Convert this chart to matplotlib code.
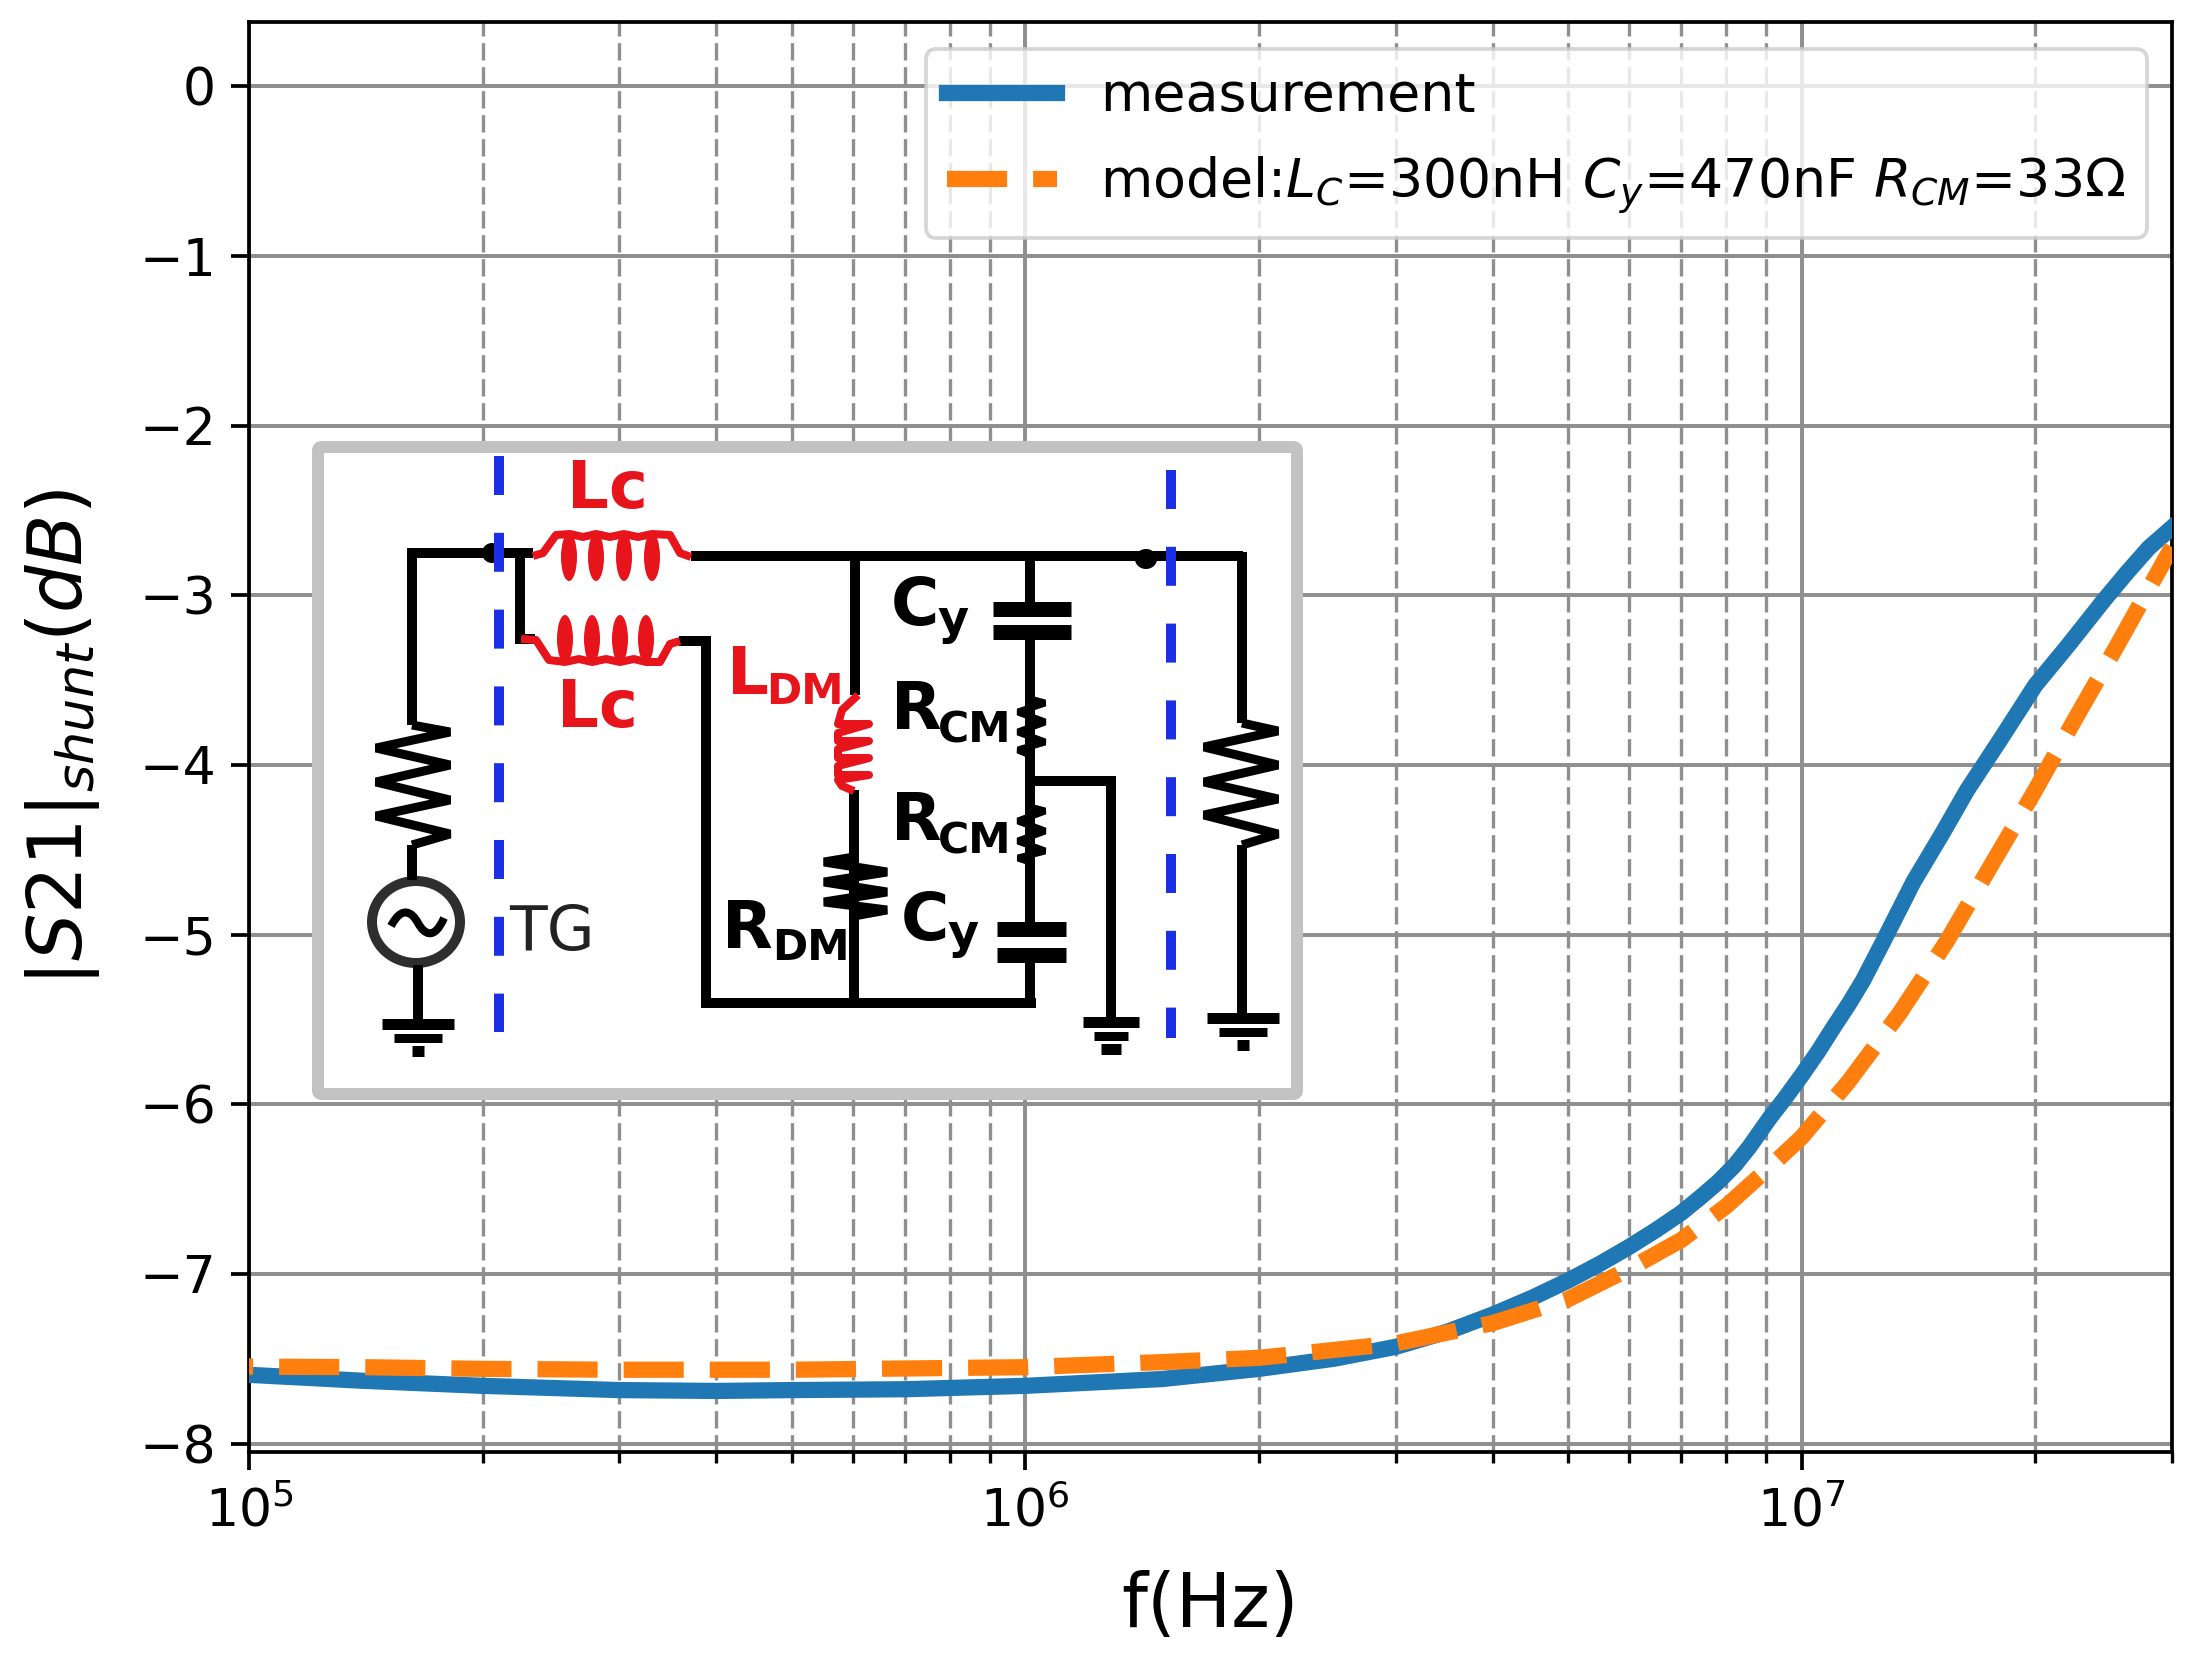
#!/usr/bin/env python3
"""|S21| shunt measurement vs model, with the test circuit drawn as an inset."""
import matplotlib
matplotlib.use("Agg")
import matplotlib.pyplot as plt
from matplotlib.patches import Ellipse, FancyBboxPatch, PathPatch
from matplotlib.path import Path
from matplotlib.ticker import LogLocator, NullFormatter

W, H = 2190, 1673
DPI = 300
PX = 72 / DPI  # one image pixel in points

BLUE = "#1f77b4"
ORANGE = "#ff7f0e"
GRID = "#8f8f8f"
BORDER = "#c2c2c2"
RED = "#e8141c"
DASH = "#1a2fe6"

FREQ_MEAS = [1e5, 1.4e5, 2e5, 3e5, 4e5, 5e5, 7e5, 1e6, 1.5e6, 2e6, 2.5e6, 3e6, 3.5e6, 4e6,
             4.5e6, 5e6, 5.5e6, 6e6, 6.5e6, 7e6, 7.4e6, 7.8e6, 8.2e6, 8.57e6, 9.1e6, 9.5e6,
             1e7, 1.05e7, 1.098e7, 1.15e7, 1.2e7, 1.274e7, 1.393e7, 1.524e7, 1.633e7,
             1.803e7, 2e7, 2.2e7, 2.45e7, 2.62e7, 2.8e7, 3e7]
S21_MEAS = [-7.595, -7.63, -7.66, -7.685, -7.69, -7.685, -7.68, -7.66, -7.62, -7.56, -7.50,
            -7.43, -7.34, -7.24, -7.14, -7.04, -6.94, -6.84, -6.74, -6.64, -6.55, -6.46,
            -6.36, -6.25, -6.08, -5.97, -5.83, -5.69, -5.55, -5.41, -5.27, -5.04, -4.69,
            -4.39, -4.15, -3.85, -3.53, -3.30, -3.03, -2.87, -2.72, -2.60]

FREQ_MODEL = [8.47e4, 1.4e5, 2e5, 3e5, 5e5, 1e6, 1.5e6, 2e6, 3e6, 4e6, 5e6, 6e6, 7e6, 8e6, 9e6,
              1e7, 1.148e7, 1.339e7, 1.538e7, 1.75e7, 1.99e7, 2.25e7, 2.55e7, 3e7]
S21_MODEL = [-7.545, -7.55, -7.56, -7.565, -7.565, -7.55, -7.52, -7.495, -7.41, -7.29, -7.15,
             -6.97, -6.80, -6.60, -6.39, -6.195, -5.87, -5.46, -5.04, -4.60, -4.165, -3.73,
             -3.295, -2.715]

Y_TICKS = [0, -1, -2, -3, -4, -5, -6, -7, -8]
LABEL_MEAS = "measurement"
LABEL_MODEL = r"model:$L_C$=300nH $C_y$=470nF $R_{CM}$=33$\Omega$"

fig = plt.figure(figsize=(W / DPI, H / DPI), dpi=DPI)
ax = fig.add_axes([249 / W, 1 - 1452 / H, (2172 - 249) / W, (1452 - 22) / H])

ax.semilogx(FREQ_MEAS, S21_MEAS, color=BLUE, linewidth=3.9, label=LABEL_MEAS, zorder=3)
ax.semilogx(FREQ_MODEL, S21_MODEL, color=ORANGE, linewidth=3.9, linestyle="--",
            label=LABEL_MODEL, zorder=4)

ax.set_xlim(1e5, 3e7)
ax.set_ylim(-8.05, 0.38)
ax.set_yticks(Y_TICKS)
ax.xaxis.set_major_locator(LogLocator(base=10, numticks=10))
ax.xaxis.set_minor_locator(LogLocator(base=10, subs=range(2, 10), numticks=10))
ax.xaxis.set_minor_formatter(NullFormatter())
ax.grid(True, which="major", color=GRID, linewidth=0.95)
ax.grid(True, which="minor", axis="x", color=GRID, linewidth=0.8, linestyle=(0, (5.2, 2)))
ax.tick_params(which="major", labelsize=12.5, length=4.4, width=0.9)
ax.tick_params(which="minor", length=2.7, width=0.8)
ax.tick_params(axis="x", which="major", pad=4)
for spine in ax.spines.values():
    spine.set_linewidth(0.9)

ax.set_xlabel("f(Hz)", fontsize=17.7)
ax.set_ylabel(r"$|S21|_{shunt}(dB)$", fontsize=18)
ax.xaxis.set_label_coords(0.5, -(1606 - 1452) / 1430, transform=ax.transAxes)
ax.xaxis.label.set_verticalalignment("center")
ax.yaxis.set_label_coords((63 - 249) / 1923, 0.5)
ax.yaxis.label.set_verticalalignment("center")

leg = ax.legend(loc="upper right", bbox_to_anchor=((2147 - 249) / 1923, (1452 - 49) / 1430),
                borderaxespad=0, fontsize=12.9, handlelength=2.05, labelspacing=0.6,
                borderpad=0.4, handletextpad=0.8)
leg.get_frame().set_linewidth(0.9)
leg.set_zorder(5)

# Inset: overlay axes measured in image pixels.
sk = fig.add_axes([0, 0, 1, 1], zorder=10)
sk.set_xlim(0, W)
sk.set_ylim(H, 0)
sk.axis("off")
sk.patch.set_alpha(0)

sk.add_patch(FancyBboxPatch((318, 447), 979, 647, boxstyle="round,pad=0,rounding_size=4",
                            facecolor="white", edgecolor=BORDER, linewidth=12 * PX))


def wire(points, color="black", width=9, join="miter"):
    xs, ys = zip(*points)
    sk.plot(xs, ys, color=color, linewidth=width * PX, solid_capstyle="butt",
            solid_joinstyle=join)


def plate(x0, x1, y, width=15):
    wire([(x0, y), (x1, y)], width=width)


def ground(xc, y, half1, half2, half3):
    plate(xc - half1, xc + half1, y, 11)
    plate(xc - half2, xc + half2, y + 14, 9)
    plate(xc - half3, xc + half3, y + 27, 11)


def label(x, y, text, sub=None, subx=None, suby=None, color="black", size=15.8, subsize=10.2):
    sk.text(x, y, text, color=color, fontsize=size, fontweight="bold", ha="left", va="baseline")
    if sub:
        sk.text(subx, suby, sub, color=color, fontsize=subsize, fontweight="bold",
                ha="left", va="baseline")


# wires
wire([(412, 725), (412, 553), (533, 553)], width=10)
wire([(520, 553), (520, 639), (535, 639)], width=10)
wire([(691, 556), (1243, 556)], width=10)
wire([(1242, 552), (1242, 723)], width=10)
wire([(1242, 845), (1242, 1018)], width=10)
wire([(679, 641), (706, 641), (706, 1003), (1036, 1003)], width=10)
wire([(855, 556), (855, 695)], width=10)
wire([(854, 790), (854, 1003)], width=10)
wire([(1030, 556), (1030, 609)], width=10)
wire([(1030, 632), (1030, 929)], width=10)
wire([(1030, 955), (1030, 1003)], width=10)
wire([(1030, 781), (1111, 781), (1111, 1018)], width=10)
wire([(412, 845), (412, 880)], width=10)
wire([(418, 965), (418, 1024)], width=10)

# capacitors
plate(993, 1071, 609)
plate(993, 1071, 632)
plate(997, 1066, 929)
plate(997, 1066, 955)

# resistors
wire([(412, 725), (450, 732), (376, 748), (450, 765), (376, 782), (450, 800), (376, 816),
      (450, 834), (412, 845)], width=9, join="bevel")
wire([(1242, 723), (1278, 731), (1204, 747), (1278, 765), (1204, 782), (1278, 799),
      (1204, 815), (1278, 834), (1242, 845)], width=9, join="bevel")
wire([(854, 857), (824, 862), (887, 872), (824, 882), (887, 892), (824, 902), (887, 910),
      (854, 916)], width=9, join="bevel")
wire([(1030, 699), (1045, 703), (1018, 712), (1045, 722), (1018, 732), (1045, 742), (1018, 750),
      (1030, 755)], width=7, join="bevel")
wire([(1030, 807), (1045, 811), (1018, 821), (1045, 831), (1018, 841), (1045, 851), (1018, 858),
      (1030, 862)], width=7, join="bevel")

# grounds
ground(418, 1024, 36, 24, 6)
ground(1111, 1022, 28, 17, 10)
ground(1243, 1018, 36, 24, 6)

# coils
wire([(533, 556), (543, 553), (556, 535), (570, 534), (583, 537), (596, 534), (610, 537),
      (624, 534), (638, 537), (652, 534), (670, 535), (680, 553), (691, 557)], RED, 8, "round")
wire([(521, 639), (536, 640), (549, 660), (565, 662), (579, 659), (592, 662), (606, 659),
      (620, 662), (634, 659), (646, 662), (660, 662), (670, 644), (680, 641)], RED, 8, "round")
for xc in (569, 596, 624, 652):
    sk.add_patch(Ellipse((xc, 557), 16, 48, facecolor=RED, edgecolor="none"))
for xc in (565, 592, 620, 646):
    sk.add_patch(Ellipse((xc, 639), 16, 48, facecolor=RED, edgecolor="none"))
wire([(858, 695), (842, 710), (838, 724), (869, 724), (838, 733), (838, 741), (869, 741),
      (838, 749), (838, 758), (869, 758), (838, 766), (838, 775), (869, 775), (838, 780),
      (842, 786), (854, 791)], RED, 8, "round")

# source
sk.add_patch(Ellipse((416, 922), 88, 82, facecolor="white", edgecolor="#2e2e2e",
                     linewidth=10 * PX))
sk.add_patch(PathPatch(Path([(391, 926), (402, 905), (412, 912), (418, 923),
                             (424, 934), (434, 941), (444, 918)],
                            [Path.MOVETO, Path.CURVE4, Path.CURVE4, Path.CURVE4,
                             Path.CURVE4, Path.CURVE4, Path.CURVE4]),
                       facecolor="none", edgecolor="black", linewidth=8 * PX))

# nodes
sk.add_patch(Ellipse((492, 553), 20, 20, facecolor="black", edgecolor="none"))
sk.add_patch(Ellipse((1146, 559), 22, 20, facecolor="black", edgecolor="none"))

# port reference planes
for x, y0, y1 in ((499, 456, 1032), (1171, 470, 1038)):
    sk.plot([x, x], [y0, y1], color=DASH, linewidth=10 * PX, linestyle=(0, (3.9, 3.78)),
            dash_capstyle="butt")

# labels
label(567, 508, "Lc", color=RED)
label(557, 727, "Lc", color=RED)
label(727, 694, "L", "DM", 766, 704, color=RED)
label(722, 948, "R", "DM", 772, 960)
label(891, 625, "C", "y", 937, 634, subsize=11.5)
label(891, 729, "R", "CM", 938, 742)
label(891, 840, "R", "CM", 938, 853)
label(901, 940, "C", "y", 947, 948, subsize=11.5)
sk.text(509, 950, "TG", color="#222222", fontsize=14.8, ha="left", va="baseline")

fig.savefig("out.png", dpi=DPI)
